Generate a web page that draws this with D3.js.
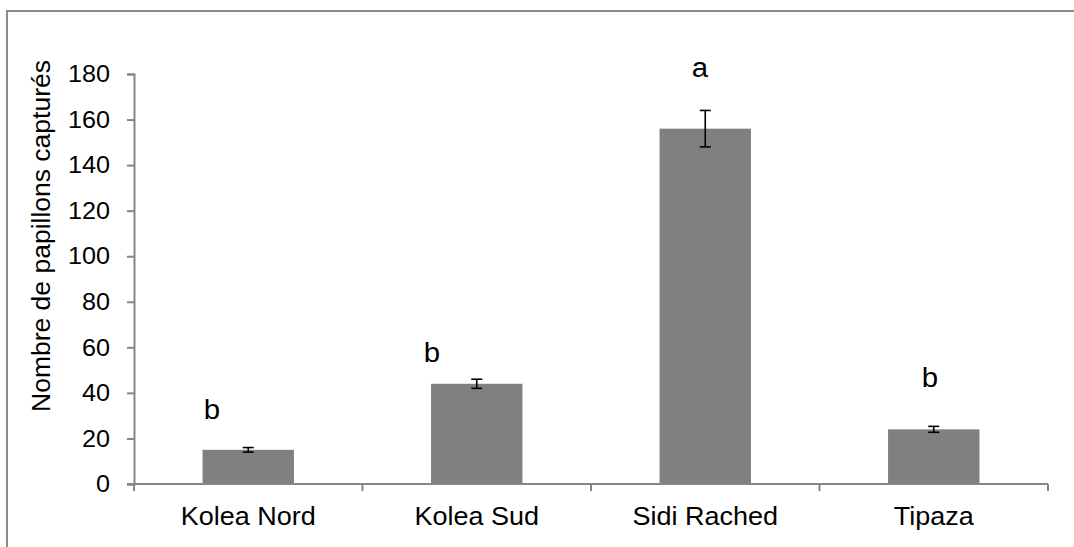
<!DOCTYPE html>
<html>
<head>
<meta charset="utf-8">
<script src="https://cdn.jsdelivr.net/npm/d3@7"></script>
<style>
  html, body { margin: 0; padding: 0; background: #fff; }
  svg { display: block; }
  text { font-family: "Liberation Sans", Arial, sans-serif; fill: #000; }
</style>
</head>
<body>
<svg id="chart" width="1074" height="547"></svg>
<script>
// Site names, mean captures, standard errors and significance groups
const sites = ["Kolea Nord", "Kolea Sud", "Sidi Rached", "Tipaza"];
const captures = [15, 44, 156, 24];
const errors = [1, 2, 8, 1.3];
const groups = ["b", "b", "a", "b"];
const yTicks = [0, 20, 40, 60, 80, 100, 120, 140, 160, 180];
const yTitle = "Nombre de papillons capturés";

const svg = d3.select("#chart");
const W = 1074, H = 547;
const plot = { left: 134, right: 1048, top: 74, bottom: 484 };
const axisColor = "#868686";

// outer frame
svg.append("rect")
  .attr("x", 7).attr("y", 11)
  .attr("width", W + 10).attr("height", H + 10)
  .attr("fill", "none").attr("stroke", "#8c8c8c").attr("stroke-width", 2);

const x = d3.scaleBand().domain(sites).range([plot.left, plot.right]).paddingInner(0.6).paddingOuter(0.3);
const xb = d3.scaleBand().domain(sites).range([plot.left, plot.right]).padding(0);
const y = d3.scaleLinear().domain([0, 180]).range([plot.bottom, plot.top]);

// y axis
const yAxis = svg.append("g")
  .attr("transform", `translate(${plot.left},0)`)
  .call(d3.axisLeft(y).tickValues(yTicks).tickSize(7).tickPadding(0));
yAxis.select(".domain").attr("stroke", axisColor).attr("stroke-width", 2);
yAxis.selectAll(".tick line").attr("stroke", axisColor).attr("stroke-width", 2);
yAxis.selectAll(".tick text")
  .attr("x", null)
  .attr("transform", "translate(-24,0) scale(1.05,1)")
  .style("font-size", "24px").style("font-family", "Liberation Sans, Arial, sans-serif")
  .attr("fill", "#000");

// bars
svg.append("g").selectAll("rect")
  .data(sites)
  .join("rect")
  .attr("x", d => x(d))
  .attr("y", (d, i) => y(captures[i]))
  .attr("width", x.bandwidth())
  .attr("height", (d, i) => y(0) - y(captures[i]))
  .attr("fill", "#808080");

// x axis with ticks between categories
const xg = svg.append("g");
xg.append("line")
  .attr("x1", plot.left - 7).attr("x2", plot.right)
  .attr("y1", y(0)).attr("y2", y(0))
  .attr("stroke", axisColor).attr("stroke-width", 2);
const bounds = sites.map(s => xb(s)).concat([xb(sites[sites.length - 1]) + xb.bandwidth()]);
xg.selectAll("line.tk")
  .data(bounds)
  .join("line")
  .attr("class", "tk")
  .attr("x1", d => d).attr("x2", d => d)
  .attr("y1", y(0)).attr("y2", y(0) + 7)
  .attr("stroke", axisColor).attr("stroke-width", 2);
xg.selectAll("text")
  .data(sites)
  .join("text")
  .attr("transform", d => `translate(${xb(d) + xb.bandwidth() / 2},525) scale(1.08,1)`)
  .attr("text-anchor", "middle")
  .style("font-size", "25px")
  .text(d => d);

// error bars
const eb = svg.append("g").attr("stroke", "#000").attr("stroke-width", 1.6);
sites.forEach((s, i) => {
  const cx = x(s) + x.bandwidth() / 2;
  const top = y(captures[i] + errors[i]);
  const bot = y(captures[i] - errors[i]);
  eb.append("line").attr("x1", cx).attr("x2", cx).attr("y1", top).attr("y2", bot);
  eb.append("line").attr("x1", cx - 5.5).attr("x2", cx + 5.5).attr("y1", top).attr("y2", top);
  eb.append("line").attr("x1", cx - 5.5).attr("x2", cx + 5.5).attr("y1", bot).attr("y2", bot);
});

// significance letters
const letterPos = [[212, 419], [432, 362], [700, 77], [930, 387]];
svg.append("g").selectAll("text")
  .data(groups)
  .join("text")
  .attr("transform", (d, i) => `translate(${letterPos[i][0]},${letterPos[i][1]}) scale(1.05,1)`)
  .attr("text-anchor", "middle")
  .style("font-size", "28px")
  .text(d => d);

// y axis title
svg.append("text")
  .attr("transform", "translate(50,236) rotate(-90) scale(1.06,1)")
  .attr("text-anchor", "middle")
  .style("font-size", "25px")
  .text(yTitle);
</script>
</body>
</html>
